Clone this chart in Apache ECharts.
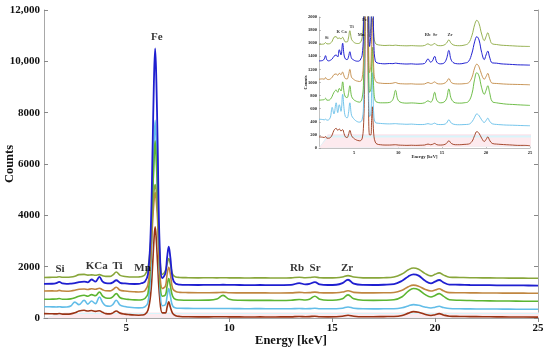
<!DOCTYPE html>
<html><head><meta charset="utf-8">
<script src="https://cdn.jsdelivr.net/npm/echarts@6/dist/echarts.min.js"></script>
<style>html,body{margin:0;padding:0;background:#fff}#c{width:550px;height:351px}</style>
</head><body><div id="c"></div>
<script>
// Energy grid (keV)
const energy = [
 1.0,1.4,1.6,1.74,1.9,2.1,2.3,2.5,2.7,2.95,
 3.13,3.31,3.5,3.69,3.85,4.0,4.2,4.35,4.51,4.7,
 4.93,5.15,5.4,5.6,5.75,5.9,6.05,6.18,6.28,6.34,
 6.4,6.46,6.52,6.62,6.75,6.9,6.98,7.06,7.14,7.25,
 7.4,7.6,8.0,8.5,9.0,9.4,9.7,10.0,10.5,11.0,
 11.5,12.0,12.5,13.0,13.4,13.7,13.9,14.16,14.4,14.8,
 15.2,15.5,15.77,16.05,16.5,17.0,17.5,18.0,18.4,18.7,
 18.95,19.2,19.5,19.8,20.0,20.2,20.4,20.7,21.2,21.7,
 22.3,23.0,23.6,24.3,25.0];

const redCounts = [
 170,165,160,175,150,150,160,200,270,300,
 270,290,260,280,220,170,160,200,270,190,
 150,130,115,110,115,140,300,900,2100,3000,
 3550,3000,2100,800,200,200,420,630,420,180,
 90,60,50,45,45,48,50,45,42,40,
 42,40,42,45,60,50,55,70,50,45,
 50,70,110,70,50,50,55,60,100,190,
 250,225,150,100,130,170,120,70,60,55,
 50,45,40,40,35];

const cyanCounts = [
 440,435,430,440,425,430,470,620,520,690,
 540,660,560,820,600,480,460,530,690,500,
 450,420,400,395,400,430,600,1700,4400,6600,
 7700,6600,4400,1500,480,520,850,1150,850,470,
 390,380,375,370,368,370,372,368,365,362,
 365,360,358,360,372,362,365,380,362,358,
 360,380,430,380,358,355,358,362,400,470,
 520,495,430,390,420,455,410,370,360,355,
 350,348,345,342,340];

const greenCounts = [
 730,735,740,760,730,730,745,790,850,885,
 850,910,870,1010,850,780,770,830,950,790,
 740,720,705,700,710,760,950,2300,4800,6000,
 6900,6000,4800,1800,850,900,1250,1540,1250,850,
 720,700,690,690,695,740,880,730,690,685,
 688,685,680,690,720,700,730,850,730,690,
 700,750,900,750,690,685,690,710,830,1050,
 1150,1100,920,820,880,950,850,710,690,680,
 670,665,660,655,650];

const orangeCounts = [
 1050,1055,1050,1075,1050,1045,1055,1080,1120,1130,
 1110,1140,1120,1160,1100,1060,1055,1110,1200,1080,
 1050,1030,1020,1015,1020,1060,1300,2300,3800,4500,
 4900,4500,3800,1900,1150,1250,1700,1980,1700,1150,
 1030,1000,990,985,985,990,1000,985,980,978,
 980,975,975,978,1000,985,990,1010,985,978,
 985,1010,1060,1000,980,978,982,995,1080,1220,
 1280,1240,1120,1050,1090,1140,1060,990,985,980,
 975,972,970,968,965];

const blueCounts = [
 1330,1335,1360,1410,1345,1330,1340,1360,1400,1420,
 1390,1500,1420,1600,1420,1360,1350,1390,1470,1370,
 1345,1330,1325,1330,1360,1410,1700,3300,6800,9200,
 10500,9200,6800,2800,1550,1750,2350,2780,2350,1550,
 1330,1300,1290,1285,1290,1288,1295,1290,1285,1282,
 1285,1280,1282,1290,1360,1310,1330,1400,1310,1285,
 1295,1360,1490,1340,1290,1285,1295,1320,1450,1620,
 1700,1650,1460,1350,1420,1480,1390,1300,1295,1285,
 1280,1275,1270,1268,1265];

const oliveCounts = [
 1580,1585,1590,1610,1590,1590,1600,1630,1690,1700,
 1670,1680,1665,1690,1650,1620,1620,1680,1790,1660,
 1620,1600,1595,1600,1620,1680,1950,2900,4200,4900,
 5200,4900,4200,2500,1700,1850,2100,2320,2100,1700,
 1600,1580,1570,1565,1568,1565,1570,1565,1562,1560,
 1563,1560,1558,1565,1590,1570,1575,1595,1570,1562,
 1570,1600,1650,1595,1565,1562,1570,1600,1720,1880,
 1950,1900,1740,1640,1700,1760,1680,1590,1580,1570,
 1565,1560,1555,1552,1550];

// Tick labels
const xTicks = [5, 10, 15, 20, 25];
const mainYTicks = [0, 2000, 4000, 6000, 8000, 10000, 12000];

// Element annotations: [energy, counts, text]
const mainLabels = [
 [6.48, 10950, 'Fe'], [1.78, 1910, 'Si'], [3.56, 2030, 'KCa'], [4.57, 2030, 'Ti'],
 [5.79, 1960, 'Mn'], [13.29, 1960, 'Rb'], [14.17, 1960, 'Sr'], [15.72, 1930, 'Zr']];
const insetLabels = [
 [1.88, 1675, 'Si'], [3.58, 1766, 'K Ca'], [4.72, 1852, 'Ti'], [5.78, 1725, 'Mn'],
 [6.2, 1954, 'Fe'], [13.74, 1725, 'Rb  Sr'], [15.9, 1725, 'Zr']];

const FONT = 'Liberation Serif';
const spectra = [
 {data: redCounts,    color: '#9a3315', w: 1.6},
 {data: cyanCounts,   color: '#62bde8', w: 1.6},
 {data: greenCounts,  color: '#5cb531', w: 1.6},
 {data: orangeCounts, color: '#c08640', w: 1.6},
 {data: oliveCounts,  color: '#88a63a', w: 1.6},
 {data: blueCounts,   color: '#1f1fd0', w: 1.8}
];
const bands = [
 {data: redCounts,    below: 10,  width: 210, color: '#fde3ea'},
 {data: cyanCounts,   below: 60,  width: 190, color: '#d6f4fb'},
 {data: greenCounts,  below: 90,  width: 170, color: '#d9f6fb'},
 {data: orangeCounts, below: 90,  width: 160, color: '#fdeaee'}
];

const chart = echarts.init(document.getElementById('c'), null, {renderer: 'canvas'});
const series = [];
function addSet(xi, yi, scale) {
  bands.forEach((b, k) => {
    const id = 'band' + xi + '_' + k;
    series.push({type: 'line', xAxisIndex: xi, yAxisIndex: yi, stack: id, symbol: 'none', silent: true, smooth: 0.4, z: 1,
      lineStyle: {opacity: 0}, data: energy.map((e, i) => [e, b.data[i] - b.below])});
    series.push({type: 'line', xAxisIndex: xi, yAxisIndex: yi, stack: id, symbol: 'none', silent: true, smooth: 0.4, z: 1,
      lineStyle: {opacity: 0}, areaStyle: {color: b.color, opacity: 1}, data: energy.map(e => [e, b.width])});
  });
  spectra.forEach(s => {
    series.push({type: 'line', xAxisIndex: xi, yAxisIndex: yi, symbol: 'none', silent: true, smooth: 0.4, z: 3,
      lineStyle: {color: s.color, width: s.w * scale}, data: energy.map((e, i) => [e, s.data[i]])});
  });
}
addSet(0, 0, 1);
addSet(2, 2, 0.55);

function labelSeries(xi, yi, arr, size) {
  return {type: 'scatter', xAxisIndex: xi, yAxisIndex: yi, symbolSize: 1, silent: true, z: 5,
    itemStyle: {color: 'rgba(0,0,0,0)'},
    label: {show: true, position: 'inside', formatter: p => p.value[2], color: '#000',
      textBorderWidth: 0, fontFamily: FONT, fontWeight: 'bold', fontSize: size},
    data: arr};
}
series.push(labelSeries(0, 0, mainLabels, 11));
series.push(labelSeries(2, 2, insetLabels, 4.5));

const fmtThousands = v => v >= 10000 ? String(v).replace(/\B(?=(\d{3})+(?!\d))/g, ',') : String(v);
const frameLine = {show: true, lineStyle: {color: '#a8a8a8', width: 1}};
const mainLabelStyle = {fontFamily: FONT, fontWeight: 'bold', fontSize: 11, color: '#111'};

chart.setOption({
  animation: false,
  backgroundColor: '#fff',
  grid: [
    {left: 44, right: 12, top: 10, bottom: 33, outerBoundsMode: 'none', containLabel: false},
    {left: 44, right: 12, top: 10, bottom: 33, outerBoundsMode: 'none', containLabel: false},
    {left: 319, right: 20, top: 17, bottom: 203, show: true, backgroundColor: '#fff', borderWidth: 0, outerBoundsMode: 'none', containLabel: false}
  ],
  xAxis: [
    {gridIndex: 0, type: 'value', min: 1, max: 25, position: 'bottom',
     axisLine: frameLine, splitLine: {show: false},
     axisTick: {inside: true, length: 4, customValues: xTicks, lineStyle: {color: '#888'}},
     axisLabel: Object.assign({customValues: xTicks, margin: 5}, mainLabelStyle),
     name: 'Energy [keV]', nameLocation: 'middle', nameGap: 16, nameMoveOverlap: false,
     nameTextStyle: {fontFamily: FONT, fontWeight: 'bold', fontSize: 12.5, color: '#111'}},
    {gridIndex: 1, type: 'value', min: 1, max: 25, position: 'top',
     axisLine: frameLine, splitLine: {show: false},
     axisTick: {inside: true, length: 4, customValues: xTicks, lineStyle: {color: '#888'}},
     axisLabel: {show: false}},
    {gridIndex: 2, type: 'value', min: 1, max: 25, position: 'bottom',
     axisLine: {show: true, lineStyle: {color: '#999', width: 0.6}}, splitLine: {show: false},
     axisTick: {inside: true, length: 2, customValues: xTicks, lineStyle: {color: '#999', width: 0.6}},
     axisLabel: {customValues: xTicks, margin: 2, fontFamily: FONT, fontWeight: 'bold', fontSize: 4.5, color: '#222'},
     name: 'Energy [keV]', nameLocation: 'middle', nameGap: 6.5, nameMoveOverlap: false,
     nameTextStyle: {fontFamily: FONT, fontWeight: 'bold', fontSize: 4.5, color: '#222'}}
  ],
  yAxis: [
    {gridIndex: 0, type: 'value', min: 0, max: 12000, interval: 2000, position: 'left',
     axisLine: frameLine, splitLine: {show: false},
     axisTick: {inside: true, length: 4, lineStyle: {color: '#888'}},
     axisLabel: Object.assign({margin: 4, formatter: fmtThousands}, mainLabelStyle),
     name: 'Counts', nameLocation: 'middle', nameGap: 28, nameRotate: 90, nameMoveOverlap: false,
     nameTextStyle: {fontFamily: FONT, fontWeight: 'bold', fontSize: 12.5, color: '#111'}},
    {gridIndex: 1, type: 'value', min: 0, max: 12000, interval: 2000, position: 'right',
     axisLine: frameLine, splitLine: {show: false},
     axisTick: {inside: true, length: 4, lineStyle: {color: '#888'}},
     axisLabel: {show: false}},
    {gridIndex: 2, type: 'value', min: 0, max: 2000, interval: 200, position: 'left',
     axisLine: {show: true, lineStyle: {color: '#999', width: 0.6}}, splitLine: {show: false},
     axisTick: {inside: true, length: 2, lineStyle: {color: '#999', width: 0.6}},
     axisLabel: {margin: 2, formatter: v => String(v), fontFamily: FONT, fontWeight: 'bold', fontSize: 4.5, color: '#222'},
     name: 'Counts', nameLocation: 'middle', nameGap: 11, nameRotate: 90, nameMoveOverlap: false,
     nameTextStyle: {fontFamily: FONT, fontWeight: 'bold', fontSize: 4.5, color: '#222'}}
  ],
  series: series
});
</script>
</body></html>
